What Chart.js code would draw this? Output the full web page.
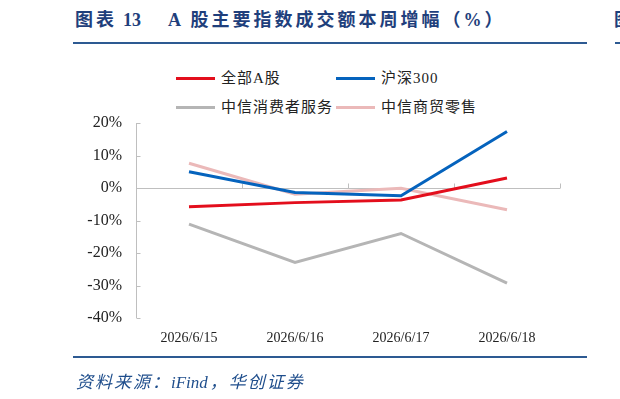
<!DOCTYPE html>
<html lang="zh">
<head>
    <meta charset="UTF-8">
    <title>A股主要指数成交额本周增幅</title>
    <script src="https://cdn.jsdelivr.net/npm/chart.js"></script>
    <style>
        body { margin: 0; background: #fff; }
        #wrap { position: relative; width: 620px; height: 399px; overflow: hidden; }
        #chart { position: absolute; left: 0; top: 0; }
        .title { position: absolute; top: 8px; font: bold 18px "Liberation Serif", "Noto Sans CJK SC"; color: #1f3f7c; letter-spacing: 3px; white-space: nowrap; line-height: 24px; }
        .title .num { letter-spacing: 0; margin-left: 6px; }
        .rule { position: absolute; height: 2px; background: #2d5a92; }
        .legend { position: absolute; font: 15px "Liberation Serif", "Noto Sans CJK SC"; color: #222; white-space: nowrap; }
        .legend span.sw { position: absolute; width: 39px; height: 3px; }
        .legend span.tx { position: absolute; line-height: 20px; top: -9px; letter-spacing: 1px; }
        .source { position: absolute; left: 76px; top: 368px; font: italic 17px "Liberation Serif", "Noto Sans CJK SC"; color: #1f4e8c; white-space: nowrap; letter-spacing: 2px; }
        .source .lat { letter-spacing: 0; margin-right: 2px; }
    </style>
</head>
<body>
<div id="wrap">
    <div class="title" style="left:75px">图表<span class="num">13</span></div>
    <div class="title" style="left:168px">A 股主要指数成交额本周增幅（%）</div>
    <div class="title" style="left:614px">图</div>
    <div class="rule" style="left:73px; width:514px; top:42px"></div>
    <div class="rule" style="left:615px; width:10px; top:42px"></div>
    <div id="legend"></div>
    <canvas id="chart" width="620" height="399"></canvas>
    <div class="rule" style="left:73px; width:514px; top:356px"></div>
    <div class="source">资料来源：<span class="lat">iFind</span>，华创证券</div>
</div>
<script>
    // data (%)
    const dates = ['2026/6/15', '2026/6/16', '2026/6/17', '2026/6/18'];
    const allA = [-5.8, -4.5, -3.7, 3.1];
    const hs300 = [5.0, -1.4, -2.4, 17.4];
    const consumer = [-11.1, -22.9, -14.0, -29.3];
    const retail = [7.6, -1.9, -0.1, -6.7];
    const yTicks = [20, 10, 0, -10, -20, -30, -40];

    const series = [
        { label: '全部A股', data: allA, color: '#e30e1c' },
        { label: '沪深300', data: hs300, color: '#0563bd' },
        { label: '中信消费者服务', data: consumer, color: '#b5b5b5' },
        { label: '中信商贸零售', data: retail, color: '#ebb9b9' }
    ];

    // legend in two columns like the original
    const legendPos = [[176, 78], [336, 78], [176, 107], [336, 107]];
    const legendBox = document.getElementById('legend');
    series.forEach(function (s, i) {
        const item = document.createElement('div');
        item.className = 'legend';
        item.style.left = legendPos[i][0] + 'px';
        item.style.top = (legendPos[i][1] - 1) + 'px';
        item.innerHTML = '<span class="sw" style="left:0;top:0;background:' + s.color + '"></span>' +
            '<span class="tx" style="left:45px">' + s.label + '</span>';
        legendBox.appendChild(item);
    });

    // axis lines drawn like the source: y axis with inner ticks, zero line with upward ticks
    const axisPlugin = {
        id: 'axisLines',
        beforeDatasetsDraw(chart) {
            const ctx = chart.ctx;
            const x = chart.scales.x;
            const y = chart.scales.y;
            const area = chart.chartArea;
            ctx.save();
            ctx.strokeStyle = '#bfbfbf';
            ctx.lineWidth = 1;
            ctx.beginPath();
            const ax = Math.round(area.left) + 0.5;
            ctx.moveTo(ax, y.getPixelForValue(20));
            ctx.lineTo(ax, y.getPixelForValue(-40));
            yTicks.forEach(function (v) {
                const py = Math.round(y.getPixelForValue(v)) + 0.5;
                ctx.moveTo(ax, py);
                ctx.lineTo(ax + 4, py);
            });
            const zy = Math.round(y.getPixelForValue(0)) + 0.5;
            ctx.moveTo(ax, zy);
            ctx.lineTo(area.right, zy);
            for (let i = 0; i < dates.length; i++) {
                const bx = Math.round((x.getPixelForValue(i) + x.getPixelForValue(i + 1)) / 2) + 0.5;
                ctx.moveTo(bx, zy);
                ctx.lineTo(bx, zy - 5);
            }
            ctx.stroke();
            ctx.restore();
        }
    };

    const serif = "'Liberation Serif', 'Times New Roman', serif";

    new Chart(document.getElementById('chart'), {
        type: 'line',
        data: {
            labels: dates,
            datasets: series.map(function (s) {
                return {
                    label: s.label,
                    data: s.data,
                    borderColor: s.color,
                    backgroundColor: s.color,
                    borderWidth: 3,
                    pointRadius: 0,
                    tension: 0,
                    fill: false
                };
            })
        },
        options: {
            responsive: false,
            animation: false,
            layout: { padding: { left: 60, right: 60, top: 123, bottom: 51 } },
            plugins: { legend: { display: false }, tooltip: { enabled: false } },
            scales: {
                x: {
                    offset: true,
                    grid: { display: false },
                    border: { display: false },
                    ticks: { color: '#222', padding: 4, maxRotation: 0, font: { family: serif, size: 14 } },
                    afterFit(s) { s.height = 30; }
                },
                y: {
                    min: -40,
                    max: 20,
                    grid: { display: false, drawTicks: false },
                    border: { display: false },
                    ticks: {
                        stepSize: 10,
                        padding: 14,
                        color: '#222',
                        font: { family: serif, size: 16 },
                        callback: function (v) { return v + '%'; }
                    },
                    afterFit(s) { s.width = 76; }
                }
            }
        },
        plugins: [axisPlugin]
    });
</script>
</body>
</html>
